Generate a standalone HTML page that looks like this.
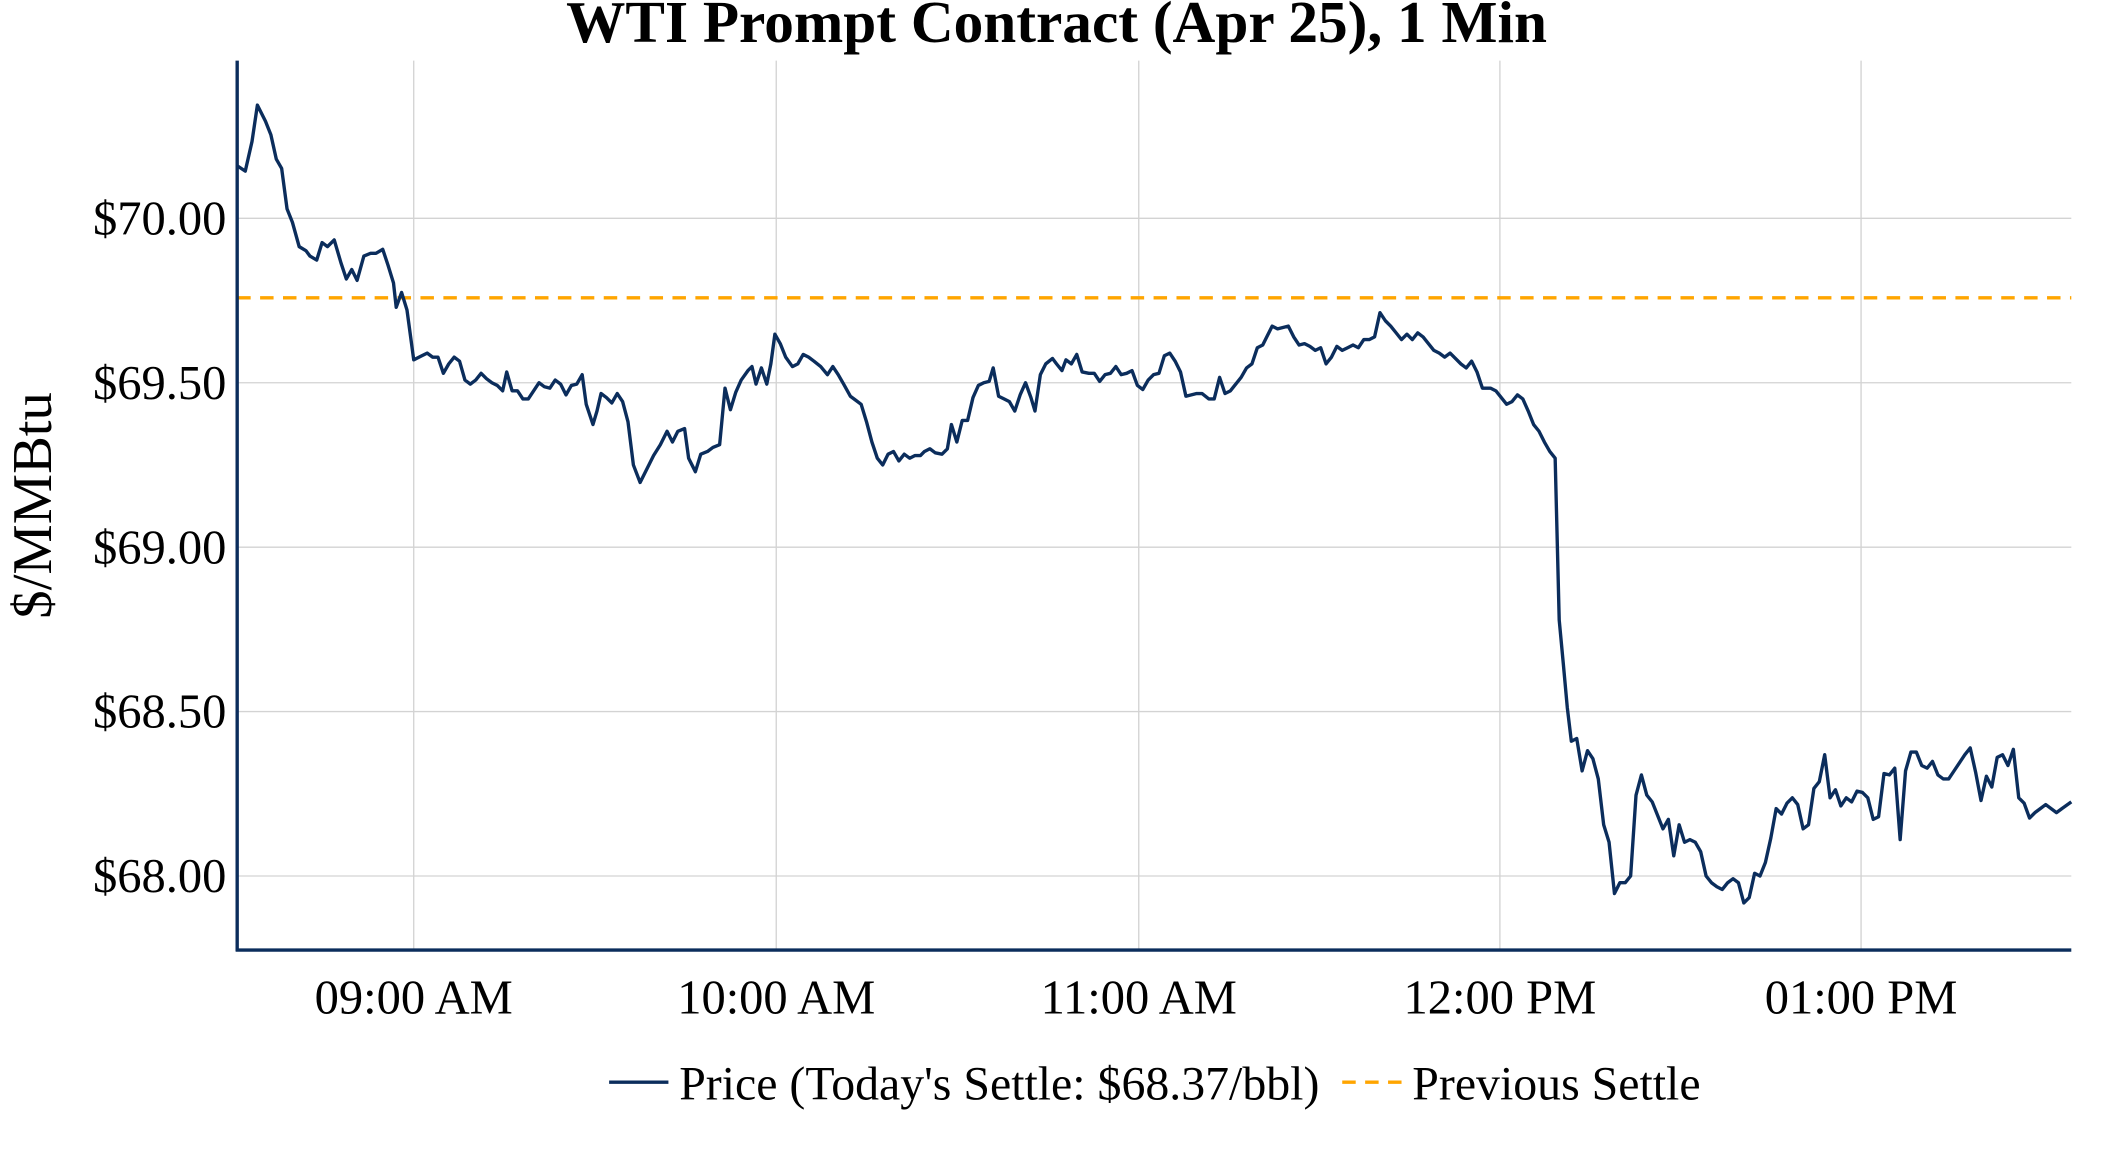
<!DOCTYPE html>
<html><head><meta charset="utf-8"><style>
html,body{margin:0;padding:0;background:#fff;overflow:hidden}
svg{display:block}
text{font-family:"Liberation Serif",serif;fill:#000}
</style></head><body>
<svg width="2112" height="1152" viewBox="0 0 1567.2 854.8" preserveAspectRatio="none" xmlns="http://www.w3.org/2000/svg">
<text x="784" y="31" font-size="44" font-weight="bold" text-anchor="middle">WTI Prompt Contract (Apr 25), 1 Min</text>
<g stroke="#d3d3d3" stroke-width="1">
<line x1="176" x2="1537" y1="162" y2="162"/><line x1="176" x2="1537" y1="284" y2="284"/>
<line x1="176" x2="1537" y1="406" y2="406"/><line x1="176" x2="1537" y1="528" y2="528"/>
<line x1="176" x2="1537" y1="650" y2="650"/>
<line x1="307" x2="307" y1="45" y2="705"/><line x1="576" x2="576" y1="45" y2="705"/>
<line x1="845" x2="845" y1="45" y2="705"/><line x1="1113" x2="1113" y1="45" y2="705"/>
<line x1="1381" x2="1381" y1="45" y2="705"/>
</g>
<line x1="176" x2="1537" y1="221" y2="221" stroke="#ffa500" stroke-width="2.5" stroke-dasharray="10,7"/>
<polyline fill="none" stroke="#0b2d5c" stroke-width="2.5" stroke-linejoin="round" points="176,123 182,127 187,105 191,78 197,90 201,100 205,118 209,125 213,155 217,165 222,183 227,186 230,190 235,193 239,180 243,183 248,178 253,195 257,207 261,200 265,208 270,190 275,188 279,188 284,185 288,197 292,210 294,228 298,217 302,230 307,267 313,264 317,262 321,265 325,265 329,277 333,270 337,265 341,268 345,282 349,285 353,282 357,277 361,281 365,284 369,286 373,290 376,276 380,290 384,290 388,296 392,296 396,290 400,284 404,287 408,288 412,282 416,285 420,293 424,286 428,285 432,278 435,300 440,315 443,305 446,292 450,295 454,299 458,292 462,298 466,313 470,345 475,358 480,348 485,338 490,330 495,320 499,328 503,320 508,318 511,340 516,350 520,337 525,335 529,332 534,330 538,288 542,304 546,291 550,282 555,275 558,272 561,285 565,273 569,285 572,270 575,248 579,255 583,265 588,272 592,270 596,263 600,265 604,268 609,272 614,278 618,272 622,278 626,285 631,294 635,297 639,300 643,313 647,328 651,340 655,345 659,337 663,335 667,342 671,337 675,340 679,338 683,338 686,335 690,333 694,336 699,337 703,333 706,315 710,328 714,312 718,312 722,295 726,286 730,284 734,283 737,273 741,294 745,296 749,298 753,305 757,293 761,284 765,295 768,305 772,278 776,270 781,266 784,270 788,275 791,267 795,270 799,263 803,276 808,277 812,277 816,283 820,278 824,277 828,272 832,278 836,277 840,275 844,286 848,289 852,282 856,278 860,277 864,264 868,262 872,268 876,276 880,294 884,293 888,292 892,292 897,296 901,296 905,280 909,292 913,290 917,285 921,280 925,273 929,270 933,258 937,256 940,250 944,242 948,244 952,243 956,242 960,250 964,256 968,255 972,257 976,260 980,258 984,270 988,265 992,257 996,260 1000,258 1004,256 1008,258 1012,252 1016,252 1020,250 1024,232 1028,238 1032,242 1036,247 1040,252 1044,248 1048,252 1052,247 1056,250 1060,255 1064,260 1068,262 1072,265 1076,262 1080,266 1084,270 1088,273 1092,268 1096,276 1100,288 1106,288 1110,290 1114,295 1118,300 1122,298 1126,293 1130,296 1134,305 1138,315 1142,320 1146,328 1150,335 1154,340 1157,460 1160,492 1163,525 1166,550 1170,548 1174,572 1178,557 1182,563 1186,578 1190,612 1194,625 1198,663 1202,655 1206,655 1210,650 1214,590 1218,575 1222,590 1226,595 1230,605 1234,615 1238,608 1242,635 1246,612 1250,625 1254,623 1258,625 1262,632 1266,650 1270,655 1274,658 1278,660 1282,655 1286,652 1290,655 1294,670 1298,666 1302,648 1306,650 1310,640 1314,622 1318,600 1322,604 1326,596 1330,592 1334,597 1338,615 1342,612 1346,585 1350,580 1354,560 1358,592 1362,586 1366,598 1370,592 1374,595 1378,587 1382,588 1386,592 1390,608 1394,606 1398,574 1402,575 1406,570 1410,623 1414,572 1418,558 1422,558 1426,568 1430,570 1434,565 1438,575 1442,578 1446,578 1450,572 1454,566 1458,560 1462,555 1466,573 1470,594 1474,576 1478,584 1482,562 1486,560 1490,568 1494,556 1498,592 1502,596 1506,607 1510,603 1514,600 1518,597 1526,603 1530,600 1537,595"/>
<line x1="176" x2="176" y1="45" y2="706" stroke="#0b2d5c" stroke-width="2.5"/>
<line x1="175" x2="1537" y1="705" y2="705" stroke="#0b2d5c" stroke-width="2.5"/>
<g font-size="36" text-anchor="end">
<text x="168" y="174">$70.00</text><text x="168" y="296">$69.50</text>
<text x="168" y="418">$69.00</text><text x="168" y="540">$68.50</text>
<text x="168" y="662">$68.00</text>
</g>
<g font-size="36" text-anchor="middle">
<text x="307" y="752">09:00 AM</text><text x="576" y="752">10:00 AM</text>
<text x="845" y="752">11:00 AM</text><text x="1113" y="752">12:00 PM</text>
<text x="1381" y="752">01:00 PM</text>
</g>
<text transform="translate(38,375) rotate(-90)" font-size="42" text-anchor="middle">$/MMBtu</text>
<line x1="452" x2="496" y1="803" y2="803" stroke="#0b2d5c" stroke-width="2.5"/>
<text x="504" y="816" font-size="35.5">Price (Today's Settle: $68.37/bbl)</text>
<line x1="996" x2="1040" y1="803" y2="803" stroke="#ffa500" stroke-width="2.5" stroke-dasharray="10,7"/>
<text x="1048" y="816" font-size="35.5">Previous Settle</text>
</svg>
</body></html>
